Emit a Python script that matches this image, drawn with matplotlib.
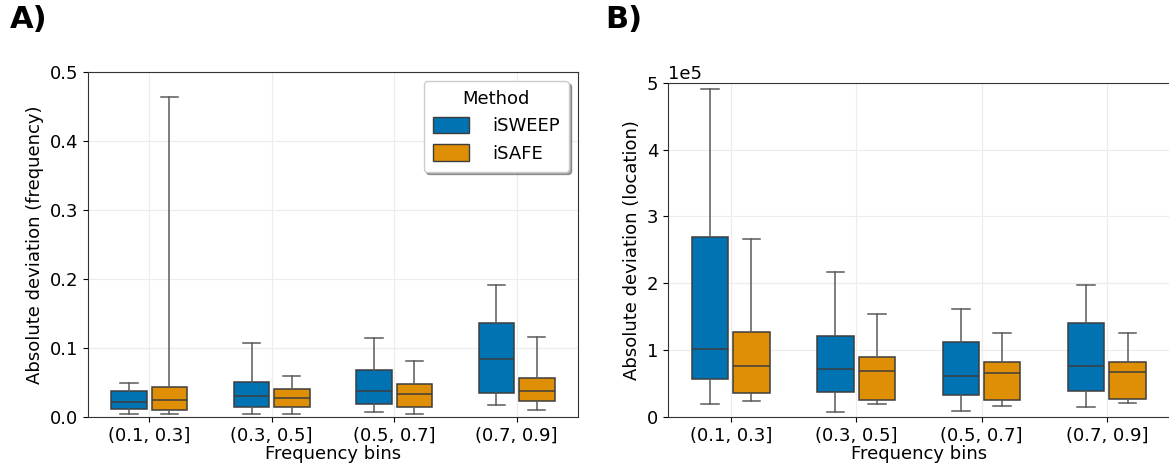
import matplotlib
matplotlib.use("Agg")
import matplotlib.pyplot as plt
import numpy as np

bins = ["(0.1, 0.3]", "(0.3, 0.5]", "(0.5, 0.7]", "(0.7, 0.9]"]
methods = ["iSWEEP", "iSAFE"]
colors = ["#0173b2", "#de8f05"]

# panel A: absolute deviation in frequency  (whislo, q1, med, q3, whishi)
freq_isweep_low = [0.004, 0.004, 0.007, 0.018]
freq_isweep_q1 = [0.012, 0.015, 0.019, 0.035]
freq_isweep_med = [0.022, 0.030, 0.038, 0.084]
freq_isweep_q3 = [0.037, 0.051, 0.068, 0.136]
freq_isweep_high = [0.049, 0.107, 0.114, 0.191]

freq_isafe_low = [0.004, 0.004, 0.004, 0.010]
freq_isafe_q1 = [0.010, 0.014, 0.015, 0.023]
freq_isafe_med = [0.024, 0.027, 0.033, 0.038]
freq_isafe_q3 = [0.044, 0.040, 0.048, 0.057]
freq_isafe_high = [0.464, 0.059, 0.081, 0.116]

# panel B: absolute deviation in location (bp)
loc_isweep_low = [20000, 7000, 9000, 15000]
loc_isweep_q1 = [57000, 37000, 33000, 39000]
loc_isweep_med = [102000, 72000, 62000, 76000]
loc_isweep_q3 = [269000, 121000, 112000, 141000]
loc_isweep_high = [491000, 217000, 162000, 198000]

loc_isafe_low = [24000, 20000, 16000, 21000]
loc_isafe_q1 = [36000, 25000, 25000, 27000]
loc_isafe_med = [77000, 69000, 66000, 67000]
loc_isafe_q3 = [127000, 90000, 82000, 83000]
loc_isafe_high = [266000, 154000, 126000, 126000]

FS = 13


def make_stats(low, q1, med, q3, high):
    return [dict(whislo=a, q1=b, med=c, q3=d, whishi=e, fliers=[])
            for a, b, c, d, e in zip(low, q1, med, q3, high)]


def draw_panel(ax, series):
    x = np.arange(len(bins))
    offs = [-0.165, 0.165]
    for k, st in enumerate(series):
        ax.bxp(st, positions=x + offs[k], widths=0.29, patch_artist=True,
               showfliers=False, capwidths=0.14,
               boxprops=dict(facecolor=colors[k], edgecolor="#3d3d3d", linewidth=1.1),
               medianprops=dict(color="#3d3d3d", linewidth=1.1),
               whiskerprops=dict(color="#5a5a5a", linewidth=1.1),
               capprops=dict(color="#5a5a5a", linewidth=1.1),
               zorder=3)
    ax.set_xticks(x)
    ax.set_xticklabels(bins)
    ax.set_xlim(-0.5, 3.5)
    ax.grid(True, color="#ececec", linewidth=0.8, zorder=0)
    ax.set_axisbelow(True)
    ax.set_xlabel("Frequency bins", fontsize=FS, labelpad=0)
    ax.tick_params(labelsize=FS)
    for s in ax.spines.values():
        s.set_color("#333333")


fig = plt.figure(figsize=(11.69, 4.68), dpi=100)

axA = fig.add_axes([0.0753, 0.109, 0.419, 0.737])
draw_panel(axA, [
    make_stats(freq_isweep_low, freq_isweep_q1, freq_isweep_med, freq_isweep_q3, freq_isweep_high),
    make_stats(freq_isafe_low, freq_isafe_q1, freq_isafe_med, freq_isafe_q3, freq_isafe_high),
])
axA.set_ylim(0, 0.5)
axA.set_yticks([0.0, 0.1, 0.2, 0.3, 0.4, 0.5])
axA.set_ylabel("Absolute deviation (frequency)", fontsize=FS)
handles = [plt.Rectangle((0, 0), 1, 1, facecolor=c, edgecolor="#3d3d3d") for c in colors]
leg = axA.legend(handles, methods, title="Method", loc="upper right", fontsize=FS,
                 title_fontsize=FS, shadow=True, fancybox=True, borderpad=0.5,
                 handlelength=2.0, handleheight=1.0, handletextpad=1.3,
                 labelspacing=0.5)

axB = fig.add_axes([0.5715, 0.109, 0.429, 0.714])
draw_panel(axB, [
    make_stats(loc_isweep_low, loc_isweep_q1, loc_isweep_med, loc_isweep_q3, loc_isweep_high),
    make_stats(loc_isafe_low, loc_isafe_q1, loc_isafe_med, loc_isafe_q3, loc_isafe_high),
])
axB.set_ylim(0, 500000)
axB.set_yticks([0, 100000, 200000, 300000, 400000, 500000])
axB.ticklabel_format(axis="y", style="sci", scilimits=(0, 0))
axB.yaxis.get_offset_text().set_fontsize(FS)
axB.set_ylabel("Absolute deviation (location)", fontsize=FS)

fig.text(0.008, 0.99, "A)", fontsize=22, fontweight="heavy", va="top", ha="left")
fig.text(0.518, 0.99, "B)", fontsize=22, fontweight="heavy", va="top", ha="left")

fig.savefig("out.png", dpi=100)
